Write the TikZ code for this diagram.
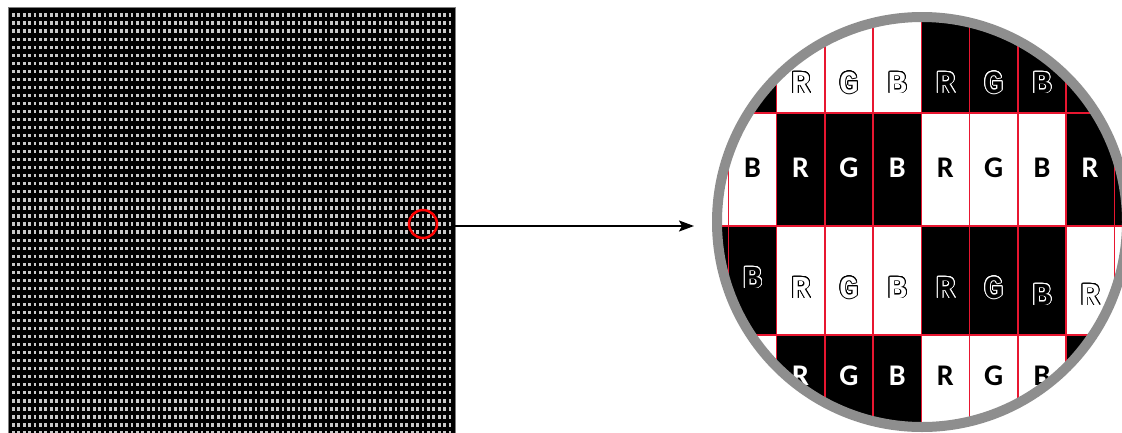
\documentclass[tikz,border=0pt]{standalone}
\usepackage{fontspec}
\usepackage{contour}
\usetikzlibrary{arrows.meta}
\newfontfamily\boldcell{Carlito}
\newfontfamily\outcell{Liberation Mono}
\definecolor{ringgray}{RGB}{142,142,142}
\definecolor{gridred}{RGB}{232,22,48}
\definecolor{dotgray}{RGB}{200,200,200}
\contourlength{0.9pt}
\contournumber{20}
\begin{document}
\begin{tikzpicture}[x=1pt,y=-1pt,
  dotrow/.style={dotgray,line width=3.2pt,dash pattern=on 2.8pt off 2.59pt},
  redline/.style={gridred,line width=1.5pt},
  boldw/.style={inner sep=0,text=white,font=\boldcell\bfseries\fontsize{30}{30}\selectfont},
  boldk/.style={inner sep=0,text=black,font=\boldcell\bfseries\fontsize{30}{30}\selectfont},
  outl/.style={inner sep=0,font=\outcell\bfseries\fontsize{32}{32}\selectfont}]
\useasboundingbox (0,0) rectangle (1122,432);
% left panel
\node[draw=gray,fill=black,line width=0.8pt,minimum width=447pt,minimum height=428pt,
      inner sep=0,outer sep=0,anchor=north west] (panel) at (8,7) {};
\begin{scope}
  \clip (9,8) rectangle (454,432);
  \foreach \r in {0,...,52}
    \draw[dotrow] (12,{15+\r*8.04}) -- (452,{15+\r*8.04});
\end{scope}
\node[circle,draw=red,line width=2.5pt,minimum size=28pt,inner sep=0] (spot) at (423,224) {};
% arrow
\coordinate (astart) at (455,226);
\coordinate (aend) at (694,226);
\draw[line width=1.8pt,-{Stealth[length=15pt,width=11pt,inset=3pt]}] (astart) -- (aend);
% magnified view
\begin{scope}
  \clip (922,222) circle[radius=205];
  \fill[white] (700,0) rectangle (1140,440);
  \foreach \c/\ya/\yb in {0/0/113,4/0/113,5/0/113,6/0/113,7/0/113,
                          1/113/226,2/113/226,3/113/226,7/113/226,8/113/226,
                          -1/226/335,0/226/335,4/226/335,5/226/335,6/226/335,
                          1/335/446,2/335/446,3/335/446,7/335/446}
    \fill[black] ({728.3+\c*48.25},\ya) rectangle ({728.3+(\c+1)*48.25},\yb);
  % row 0 outlined letters
  \foreach \c/\t in {1/R,2/G,3/B}
    \node[outl] (a\c) at ({752.4+\c*48.25},83) {\contour{black}{\color{white}\t}};
  \foreach \c/\t in {4/R,5/G,6/B}
    \node[outl] (a\c) at ({752.4+\c*48.25},83) {\contour{white}{\color{black}\t}};
  % row 1 bold letters
  \foreach \c/\t in {0/B,4/R,5/G,6/B}
    \node[boldk] (b\c) at ({752.4+\c*48.25},168) {\t};
  \foreach \c/\t in {1/R,2/G,3/B,7/R}
    \node[boldw] (b\c) at ({752.4+\c*48.25},168) {\t};
  % row 2 outlined letters
  \foreach \c/\t/\y in {0/B/278,4/R/288,5/G/288,6/B/295}
    \node[outl] (c\c) at ({752.4+\c*48.25},\y) {\contour{white}{\color{black}\t}};
  \foreach \c/\t/\y in {1/R/288,2/G/288,3/B/288,7/R/295}
    \node[outl] (c\c) at ({752.4+\c*48.25},\y) {\contour{black}{\color{white}\t}};
  % row 3 bold letters
  \foreach \c/\t in {1/R,2/G,3/B}
    \node[boldw] (d\c) at ({752.4+\c*48.25},376) {\t};
  \foreach \c/\t in {4/R,5/G,6/B}
    \node[boldk] (d\c) at ({752.4+\c*48.25},376) {\t};
  % red grid
  \foreach \c in {0,...,8}
    \draw[redline] ({728.3+\c*48.25},0) -- ({728.3+\c*48.25},440);
  \foreach \y in {113,226,335}
    \draw[redline] (700,\y) -- (1140,\y);
\end{scope}
\node[circle,draw=ringgray,line width=10pt,minimum size=410pt,inner sep=0] (lens) at (922,222) {};
\end{tikzpicture}
\end{document}
